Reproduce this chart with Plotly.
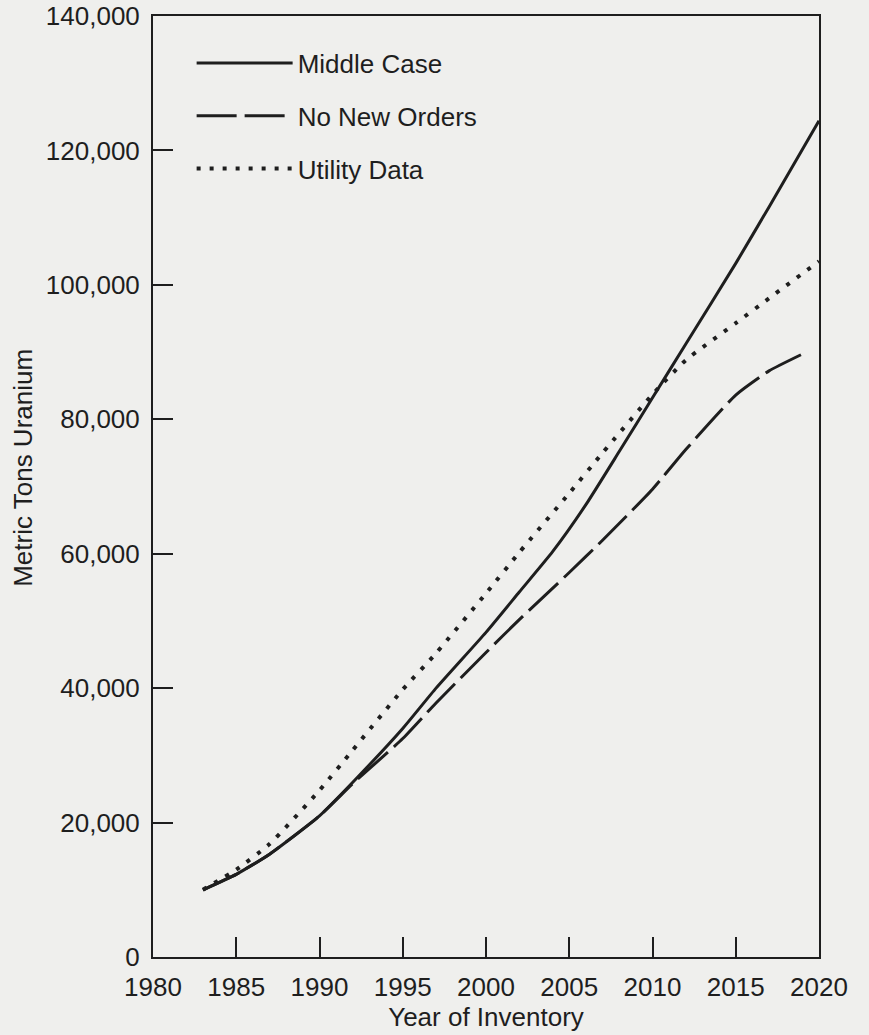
import plotly.graph_objects as go

# Data (metric tons of uranium)
years_middle = [1983, 1985, 1987, 1990, 1992, 1995, 1997, 2000, 2002, 2004, 2006, 2008, 2010, 2012, 2015, 2017, 2020]
middle_case = [10000, 12300, 15300, 21000, 26000, 34000, 40000, 48300, 54300, 60300, 67300, 75200, 83200, 91200, 103200, 111600, 124400]

years_no_new = [1983, 1985, 1987, 1990, 1992, 1995, 1997, 2000, 2002, 2005, 2007, 2010, 2012, 2015, 2017, 2019]
no_new_orders = [10000, 12300, 15300, 21000, 25800, 32500, 37800, 45300, 50200, 57200, 62000, 69600, 75500, 83600, 87200, 89700]

years_utility = [1983, 1985, 1987, 1990, 1992, 1995, 1997, 2000, 2002, 2005, 2007, 2010, 2012, 2015, 2017, 2020]
utility_data = [10000, 13000, 16800, 24800, 30800, 39800, 45200, 54100, 60200, 69000, 75000, 83700, 88800, 94300, 98000, 103500]

x_ticks = [1980, 1985, 1990, 1995, 2000, 2005, 2010, 2015, 2020]
y_ticks = [0, 20000, 40000, 60000, 80000, 100000, 120000, 140000]

INK = "#1e1e1e"
BG = "#efefed"
FONT = "Liberation Sans"
FS = 26

fig = go.Figure()
fig.add_trace(go.Scatter(x=years_middle, y=middle_case, mode="lines", name="Middle Case",
                         legendgroup="a", line=dict(color=INK, width=3, shape="spline", smoothing=0.5)))
fig.add_trace(go.Scatter(x=years_no_new, y=no_new_orders, mode="lines", name="No New Orders",
                         legendgroup="b", line=dict(color=INK, width=3, dash="40px,8px", shape="spline", smoothing=0.5)))
fig.add_trace(go.Scatter(x=years_utility, y=utility_data, mode="lines", name="Utility Data",
                         legendgroup="c", line=dict(color=INK, width=4, dash="4px,9px", shape="spline", smoothing=0.5)))

axis_common = dict(showline=True, mirror=True, linecolor=INK, linewidth=2,
                   ticks="inside", ticklen=20, tickwidth=2, tickcolor=INK,
                   showgrid=False, zeroline=False, automargin=False,
                   ticklabeloverflow="allow",
                   tickfont=dict(family=FONT, size=FS, color=INK))

fig.update_xaxes(range=[1980, 2020], tickvals=x_ticks, ticklabelstandoff=6,
                 title=dict(text="Year of Inventory", font=dict(family=FONT, size=FS, color=INK), standoff=6),
                 **axis_common)
fig.update_yaxes(range=[0, 140000], tickvals=y_ticks, tickformat=",d", ticklabelstandoff=6,
                 **axis_common)

fig.add_annotation(text="Metric Tons Uranium", textangle=-90, xref="paper", yref="paper",
                   x=-0.195, y=0.52, xanchor="center", yanchor="middle", showarrow=False,
                   font=dict(family=FONT, size=FS, color=INK))

fig.update_layout(
    width=869, height=1035,
    margin=dict(l=153, r=50, t=16, b=78),
    paper_bgcolor=BG, plot_bgcolor=BG,
    font=dict(family=FONT, color=INK),
    legend=dict(x=0.058, y=0.975, xanchor="left", yanchor="top", bgcolor="rgba(0,0,0,0)",
                font=dict(family=FONT, size=FS, color=INK), itemwidth=96, tracegroupgap=16),
)

fig.write_html("out.html", config={"displayModeBar": False},
               post_script="document.body.style.margin='0';document.body.style.background='#efefed';")
